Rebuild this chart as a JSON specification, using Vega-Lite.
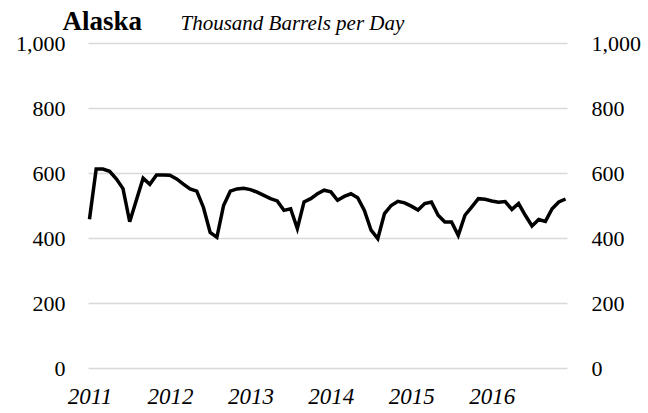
{
  "$schema": "https://vega.github.io/schema/vega-lite/v6.json",
  "autosize": "none",
  "width": 479,
  "height": 325,
  "padding": {"left": 88, "top": 43, "right": 81, "bottom": 45},
  "background": "white",
  "config": {
    "view": {"stroke": null},
    "font": "Liberation Serif"
  },
  "data": {
    "values": [
      {"m": "2011-01", "v": 458}, {"m": "2011-02", "v": 612}, {"m": "2011-03", "v": 612}, {"m": "2011-04", "v": 605},
      {"m": "2011-05", "v": 582}, {"m": "2011-06", "v": 552}, {"m": "2011-07", "v": 450}, {"m": "2011-08", "v": 517},
      {"m": "2011-09", "v": 584}, {"m": "2011-10", "v": 565}, {"m": "2011-11", "v": 594}, {"m": "2011-12", "v": 594},
      {"m": "2012-01", "v": 593}, {"m": "2012-02", "v": 582}, {"m": "2012-03", "v": 566}, {"m": "2012-04", "v": 551},
      {"m": "2012-05", "v": 544}, {"m": "2012-06", "v": 494}, {"m": "2012-07", "v": 417}, {"m": "2012-08", "v": 402},
      {"m": "2012-09", "v": 500}, {"m": "2012-10", "v": 544}, {"m": "2012-11", "v": 551}, {"m": "2012-12", "v": 553},
      {"m": "2013-01", "v": 549}, {"m": "2013-02", "v": 541}, {"m": "2013-03", "v": 531}, {"m": "2013-04", "v": 521},
      {"m": "2013-05", "v": 514}, {"m": "2013-06", "v": 485}, {"m": "2013-07", "v": 490}, {"m": "2013-08", "v": 429},
      {"m": "2013-09", "v": 511}, {"m": "2013-10", "v": 521}, {"m": "2013-11", "v": 536}, {"m": "2013-12", "v": 547},
      {"m": "2014-01", "v": 542}, {"m": "2014-02", "v": 516}, {"m": "2014-03", "v": 528}, {"m": "2014-04", "v": 536},
      {"m": "2014-05", "v": 524}, {"m": "2014-06", "v": 485}, {"m": "2014-07", "v": 424}, {"m": "2014-08", "v": 398},
      {"m": "2014-09", "v": 475}, {"m": "2014-10", "v": 500}, {"m": "2014-11", "v": 513}, {"m": "2014-12", "v": 508},
      {"m": "2015-01", "v": 498}, {"m": "2015-02", "v": 486}, {"m": "2015-03", "v": 506}, {"m": "2015-04", "v": 511},
      {"m": "2015-05", "v": 470}, {"m": "2015-06", "v": 449}, {"m": "2015-07", "v": 449}, {"m": "2015-08", "v": 408},
      {"m": "2015-09", "v": 470}, {"m": "2015-10", "v": 495}, {"m": "2015-11", "v": 521}, {"m": "2015-12", "v": 519},
      {"m": "2016-01", "v": 514}, {"m": "2016-02", "v": 510}, {"m": "2016-03", "v": 512}, {"m": "2016-04", "v": 488},
      {"m": "2016-05", "v": 506}, {"m": "2016-06", "v": 470}, {"m": "2016-07", "v": 437}, {"m": "2016-08", "v": 457},
      {"m": "2016-09", "v": 451}, {"m": "2016-10", "v": 490}, {"m": "2016-11", "v": 511}, {"m": "2016-12", "v": 520}
    ]
  },
  "encoding": {
    "x": {
      "field": "m",
      "type": "ordinal",
      "sort": null,
      "scale": {"type": "point", "padding": 0.22},
      "axis": {
        "title": null,
        "values": ["2011-01", "2012-01", "2013-01", "2014-01", "2015-01", "2016-01"],
        "labelExpr": "slice(datum.value, 0, 4)",
        "labelAngle": 0,
        "labelFont": "Liberation Serif",
        "labelFontStyle": "italic",
        "labelFontSize": 23,
        "labelColor": "#000000",
        "labelPadding": 17,
        "labelBaseline": "top",
        "ticks": false,
        "domain": false,
        "grid": false,
        "labelOverlap": false
      }
    }
  },
  "layer": [
    {
      "mark": {"type": "line", "color": "#000000", "strokeWidth": 3.5, "strokeJoin": "miter"},
      "encoding": {
        "y": {
          "field": "v",
          "type": "quantitative",
          "scale": {"domain": [0, 1000]},
          "axis": {
            "orient": "left",
            "values": [0, 200, 400, 600, 800, 1000],
            "format": ",d",
            "labelFont": "Liberation Serif",
            "labelFontSize": 22,
            "labelColor": "#000000",
            "labelPadding": 23,
            "ticks": false,
            "domain": false,
            "grid": true,
            "gridColor": "#d9d9d9",
            "gridWidth": 1.5,
            "title": "Alaska",
            "titleFont": "Liberation Serif",
            "titleFontWeight": "bold",
            "titleFontSize": 27,
            "titleColor": "#000000",
            "titleAngle": 0,
            "titleAlign": "left",
            "titleBaseline": "alphabetic",
            "titleX": -26,
            "titleY": -14
          }
        }
      }
    },
    {
      "mark": {"type": "line", "strokeOpacity": 0},
      "encoding": {
        "y": {
          "field": "v",
          "type": "quantitative",
          "scale": {"domain": [0, 1000]},
          "axis": {
            "orient": "right",
            "values": [0, 200, 400, 600, 800, 1000],
            "format": ",d",
            "labelFont": "Liberation Serif",
            "labelFontSize": 22,
            "labelColor": "#000000",
            "labelPadding": 24,
            "labelAlign": "left",
            "ticks": false,
            "domain": false,
            "grid": false,
            "title": "Thousand Barrels per Day",
            "titleFont": "Liberation Serif",
            "titleFontStyle": "italic",
            "titleFontWeight": "normal",
            "titleFontSize": 21,
            "titleColor": "#000000",
            "titleAngle": 0,
            "titleAlign": "left",
            "titleBaseline": "alphabetic",
            "titleX": -387,
            "titleY": -14
          }
        }
      }
    }
  ],
  "resolve": {"axis": {"y": "independent"}}
}
